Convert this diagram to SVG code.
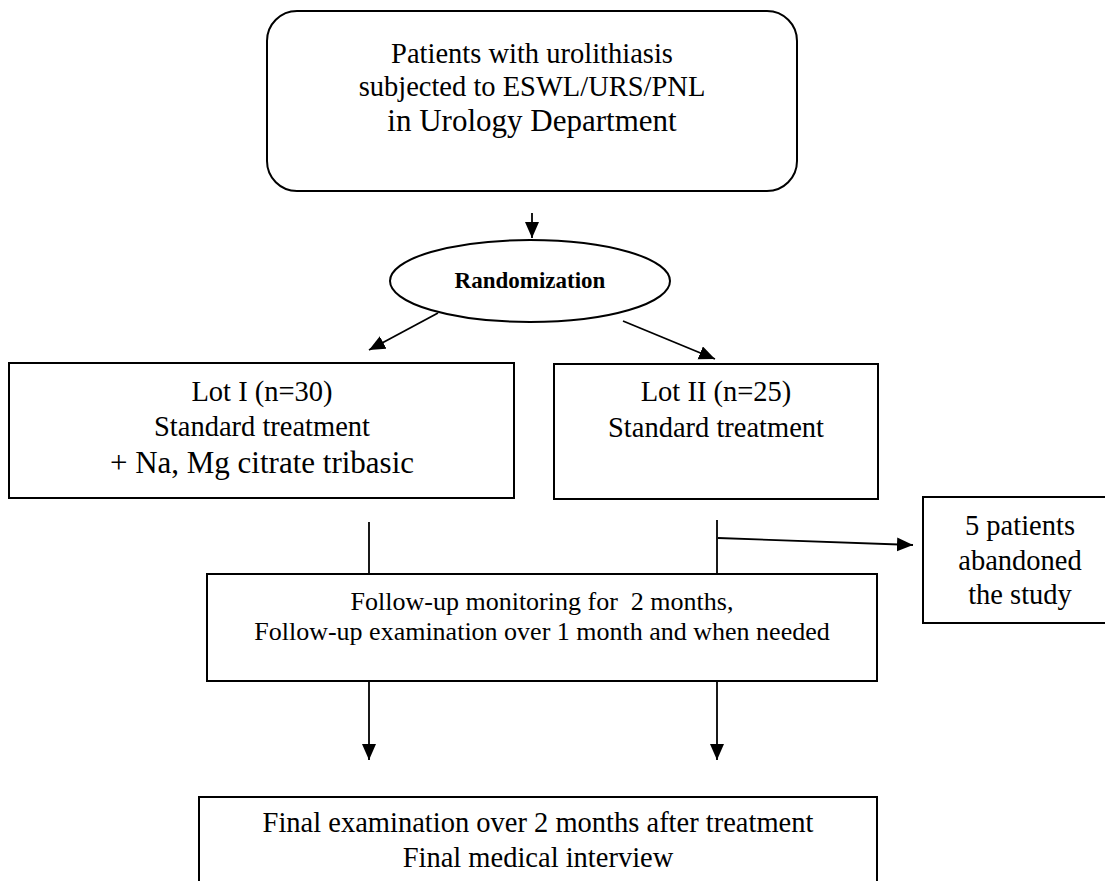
<svg xmlns="http://www.w3.org/2000/svg" width="1105" height="881" viewBox="0 0 1105 881">
<style>
.box{fill:#fff;stroke:#000;stroke-width:2}
.t{font-family:"Liberation Serif","Times New Roman",serif;fill:#000;text-anchor:middle}
.s26{font-size:26px}
.s28{font-size:28.5px}
.s31{font-size:31px}
.b{font-weight:bold;font-size:23px}
.c{fill:none;stroke:#000;stroke-width:1.8}
</style>
<defs>
<marker id="ah" markerUnits="userSpaceOnUse" markerWidth="17" markerHeight="15" refX="16" refY="7" orient="auto">
<path d="M0,0 L16,7 L0,14 z" fill="#000"/>
</marker>
</defs>
<rect width="1105" height="881" fill="#fff"/>
<g id="n-patients">
<rect class="box" x="267" y="11" width="530" height="180" rx="30" ry="30"/>
<text class="t s28" x="532" y="63">Patients with urolithiasis</text>
<text class="t s28" x="532" y="96">subjected to ESWL/URS/PNL</text>
<text class="t s31" x="532" y="131">in Urology Department</text>
</g>
<g id="n-random">
<ellipse class="box" cx="530" cy="281" rx="140" ry="41"/>
<text class="t b" x="530" y="288">Randomization</text>
</g>
<g id="n-lot1">
<rect class="box" x="9" y="363" width="505" height="135"/>
<text class="t s28" x="262" y="401">Lot I (n=30)</text>
<text class="t s28" x="262" y="436">Standard treatment</text>
<text class="t s31" x="262" y="473">+ Na, Mg citrate tribasic</text>
</g>
<g id="n-lot2">
<rect class="box" x="554" y="364" width="324" height="135"/>
<text class="t s28" x="716" y="401">Lot II (n=25)</text>
<text class="t s28" x="716" y="437">Standard treatment</text>
</g>
<g id="n-abandon">
<rect class="box" x="923" y="497" width="200" height="126"/>
<text class="t s28" x="1020" y="535">5 patients</text>
<text class="t s28" x="1020" y="570">abandoned</text>
<text class="t s28" x="1020" y="604">the study</text>
</g>
<g id="n-follow">
<rect class="box" x="207" y="574" width="670" height="107"/>
<text class="t s26" x="542" y="610" xml:space="preserve">Follow-up monitoring for  2 months,</text>
<text class="t s26" x="542" y="640">Follow-up examination over 1 month and when needed</text>
</g>
<g id="n-final">
<rect class="box" x="199" y="797" width="678" height="120"/>
<text class="t s28" x="538" y="832">Final examination over 2 months after treatment</text>
<text class="t s28" x="538" y="867">Final medical interview</text>
</g>
<g id="connectors">
<line class="c" x1="532" y1="213" x2="532" y2="238" marker-end="url(#ah)"/>
<line class="c" x1="438" y1="313" x2="369" y2="350" marker-end="url(#ah)"/>
<line class="c" x1="623" y1="321" x2="715" y2="359" marker-end="url(#ah)"/>
<line class="c" x1="369" y1="522" x2="369" y2="574"/>
<line class="c" x1="717" y1="520" x2="717" y2="574"/>
<line class="c" x1="718" y1="538" x2="913" y2="545" marker-end="url(#ah)"/>
<line class="c" x1="369" y1="681" x2="369" y2="760" marker-end="url(#ah)"/>
<line class="c" x1="717" y1="681" x2="717" y2="760" marker-end="url(#ah)"/>
</g>
</svg>
